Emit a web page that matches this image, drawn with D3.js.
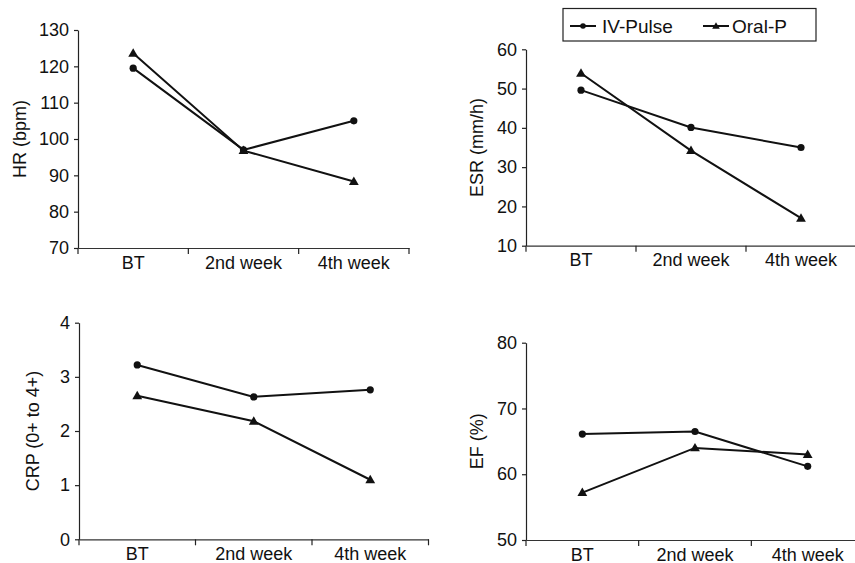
<!DOCTYPE html>
<html>
<head>
<meta charset="utf-8">
<script src="https://cdn.jsdelivr.net/npm/d3@7"></script>
<style>
  body { margin: 0; background: #fff; }
  svg { display: block; }
  text { font-family: "Liberation Sans", Arial, Helvetica, sans-serif; fill: #111; }
</style>
</head>
<body>
<svg id="chart" width="855" height="563"></svg>
<script>
const categories = ["BT", "2nd week", "4th week"];
const seriesNames = ["IV-Pulse", "Oral-P"];

const hrIV   = [119.5, 97, 105];
const hrOral = [123.6, 96.8, 88.3];
const hrTicks = [70, 80, 90, 100, 110, 120, 130];

const esrIV   = [49.6, 40.1, 35];
const esrOral = [53.9, 34.2, 17];
const esrTicks = [10, 20, 30, 40, 50, 60];

const crpIV   = [3.22, 2.63, 2.76];
const crpOral = [2.65, 2.18, 1.1];
const crpTicks = [0, 1, 2, 3, 4];

const efIV   = [66.1, 66.5, 61.2];
const efOral = [57.2, 64, 63];
const efTicks = [50, 60, 70, 80];

const panels = [
  { label: "HR (bpm)", iv: hrIV, oral: hrOral, ticks: hrTicks,
    x0: 78, x1: 409, yTop: 30, yBot: 248, labelX: 20 },
  { label: "ESR (mm/h)", iv: esrIV, oral: esrOral, ticks: esrTicks,
    x0: 526, x1: 856, yTop: 49.3, yBot: 245.7, labelX: 477 },
  { label: "CRP (0+ to 4+)", iv: crpIV, oral: crpOral, ticks: crpTicks,
    x0: 79, x1: 428.5, yTop: 322.7, yBot: 539.3, labelX: 33 },
  { label: "EF (%)", iv: efIV, oral: efOral, ticks: efTicks,
    x0: 526, x1: 864, yTop: 342.7, yBot: 540, labelX: 477 }
];

const svg = d3.select("#chart");
const FS = 18;
const ink = "#111";
const fam = '"Liberation Sans", Arial, sans-serif';

function marker(g, type, cx, cy, s) {
  if (type === "circle") {
    g.append("circle").attr("cx", cx).attr("cy", cy).attr("r", s).attr("fill", ink);
  } else {
    g.append("path")
      .attr("d", d3.symbol().type(d3.symbolTriangle).size(s * s * 3.2)())
      .attr("transform", `translate(${cx},${cy + 0.6})`)
      .attr("fill", ink);
  }
}

panels.forEach(p => {
  const g = svg.append("g");
  const x = d3.scaleBand().domain(categories).range([p.x0, p.x1]);
  const y = d3.scaleLinear().domain([p.ticks[0], p.ticks[p.ticks.length - 1]]).range([p.yBot, p.yTop]);

  // y axis
  const ya = g.append("g").attr("transform", `translate(${p.x0},0)`)
    .call(d3.axisLeft(y).tickValues(p.ticks).tickFormat(d3.format("d"))
      .tickSize(4).tickSizeOuter(0).tickPadding(5));
  ya.selectAll("path, line").attr("stroke", "#222").attr("stroke-width", 1.2);
  ya.selectAll("text").style("font-size", FS + "px").attr("fill", ink).style("font-family", fam);

  // x axis: labels at band centers, ticks at band boundaries
  const xa = g.append("g").attr("transform", `translate(0,${p.yBot})`)
    .call(d3.axisBottom(x).tickSize(0).tickPadding(8).tickSizeOuter(0));
  xa.select("path").attr("stroke", "#333").attr("stroke-width", 1.2);
  xa.selectAll("text").style("font-size", FS + "px").attr("fill", ink).style("font-family", fam);
  const bounds = categories.map(c => x(c)).concat([x(categories[categories.length - 1]) + x.bandwidth()]);
  g.selectAll(".xt").data(bounds).enter().append("line")
    .attr("x1", d => d).attr("x2", d => d)
    .attr("y1", p.yBot).attr("y2", p.yBot + 6)
    .attr("stroke", "#222").attr("stroke-width", 1.2);

  // y label
  g.append("text")
    .attr("transform", `translate(${p.labelX},${(p.yTop + p.yBot) / 2}) rotate(-90)`)
    .attr("text-anchor", "middle").attr("dominant-baseline", "central")
    .style("font-size", FS + "px")
    .text(p.label);

  const cx = c => x(c) + x.bandwidth() / 2;
  const line = d3.line().x((d, i) => cx(categories[i])).y(d => y(d));

  [[p.iv, "circle"], [p.oral, "triangle"]].forEach(([vals, type]) => {
    g.append("path").datum(vals).attr("d", line)
      .attr("fill", "none").attr("stroke", ink).attr("stroke-width", 2);
    vals.forEach((v, i) => marker(g, type, cx(categories[i]), y(v), 3.6));
  });
});

// legend
const lg = svg.append("g");
lg.append("rect").attr("x", 563).attr("y", 8.5).attr("width", 253).attr("height", 32.5)
  .attr("fill", "#fff").attr("stroke", "#222").attr("stroke-width", 1.2);
const legendItems = [
  { name: seriesNames[0], type: "circle", lx: 570, tx: 602 },
  { name: seriesNames[1], type: "triangle", lx: 703, tx: 732 }
];
legendItems.forEach(it => {
  lg.append("line").attr("x1", it.lx).attr("x2", it.lx + 26).attr("y1", 26).attr("y2", 26)
    .attr("stroke", ink).attr("stroke-width", 2);
  marker(lg, it.type, it.lx + 13, 26, 2.8);
  lg.append("text").attr("x", it.tx).attr("y", 26).attr("dominant-baseline", "central")
    .style("font-size", "19px").text(it.name);
});
</script>
</body>
</html>
